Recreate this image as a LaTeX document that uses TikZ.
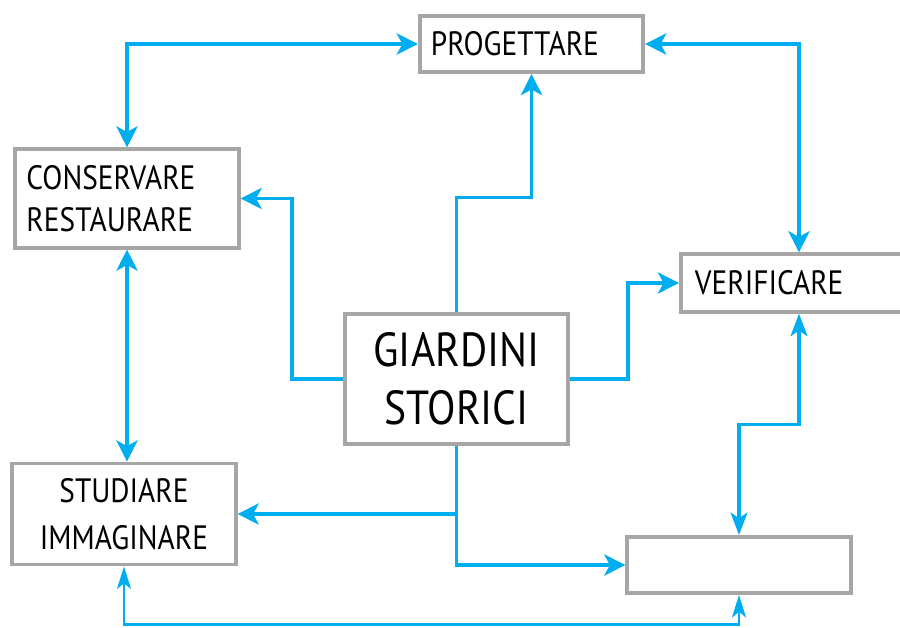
\documentclass[tikz,border=0pt]{standalone}
\usepackage{fontspec}
\setmainfont{PT Sans}[FakeStretch=0.87]
\usetikzlibrary{positioning,arrows.meta}
\definecolor{linkblue}{RGB}{0,174,239}
\definecolor{boxgray}{RGB}{168,165,165}

\begin{document}
\begin{tikzpicture}[x=0.025cm, y=-0.025cm,
				box/.style={rectangle, draw=boxgray, line width=2.6pt, fill=white, minimum width=159pt, inner xsep=8pt, inner ysep=0pt, font=\fontsize{24}{30}\selectfont},
				leftbox/.style={box, text width=143pt, align=left},
				midbox/.style={box, align=center},
				link/.style={draw=linkblue, line width=2.8pt, {Stealth[length=15pt, width=15pt, inset=4pt]}-{Stealth[length=15pt, width=15pt, inset=4pt]}},
				thinlink/.style={draw=linkblue, line width=1.5pt, {Stealth[length=16pt, width=10pt, inset=4pt]}-{Stealth[length=16pt, width=10pt, inset=4pt]}}
			]
			\useasboundingbox (0,0) rectangle (900,627);
			\node[leftbox, minimum height=40pt] (prog) at (531.5,44) {PROGETTARE};
			\node[leftbox, minimum height=70pt, inner xsep=7pt] (cons) at (127,198.5) {CONSERVARE\\RESTAURARE};
			\node[leftbox, minimum height=41pt, minimum width=168pt, text width=148pt] (verif) at (799,283) {VERIFICARE};
			\node[midbox, minimum height=92pt, font=\fontsize{34}{41}\selectfont] (giard) at (456.5,379) {GIARDINI\\STORICI};
			\node[midbox, minimum height=72pt, font=\fontsize{24}{33}\selectfont] (stud) at (124,514) {STUDIARE\\IMMAGINARE};
			\node[box, minimum height=40pt] (empty) at (739,565) {};
			% double links
			\draw[link] (cons.north) |- (prog.west);
			\draw[link] (verif.north) |- (prog.east);
			\draw[link] (cons.south) -- (cons.south |- stud.north);
			\draw[link, line width=2.2pt, {Stealth[length=16pt, width=12pt, inset=4pt]}-{Stealth[length=16pt, width=12pt, inset=4pt]}] (verif.south) -- ++(0,111) -| (empty.north);
			\draw[thinlink] (stud.south) -- ++(0,58) -| (empty.south);
			% from the centre
			\begin{scope}[link, -{Stealth[length=15pt, width=15pt, inset=4pt]}]
			\draw (giard.north) -- ++(0,-115) -| (prog.south);
			\draw (giard.west) -- ++(-51,0) |- (cons.east);
			\draw (giard.east) -- ++(58,0) |- (verif.west);
			\draw (giard.south) |- (stud.east);
			\draw (giard.south) |- (empty.west);
			\end{scope}
			\end{tikzpicture}
\end{document}
